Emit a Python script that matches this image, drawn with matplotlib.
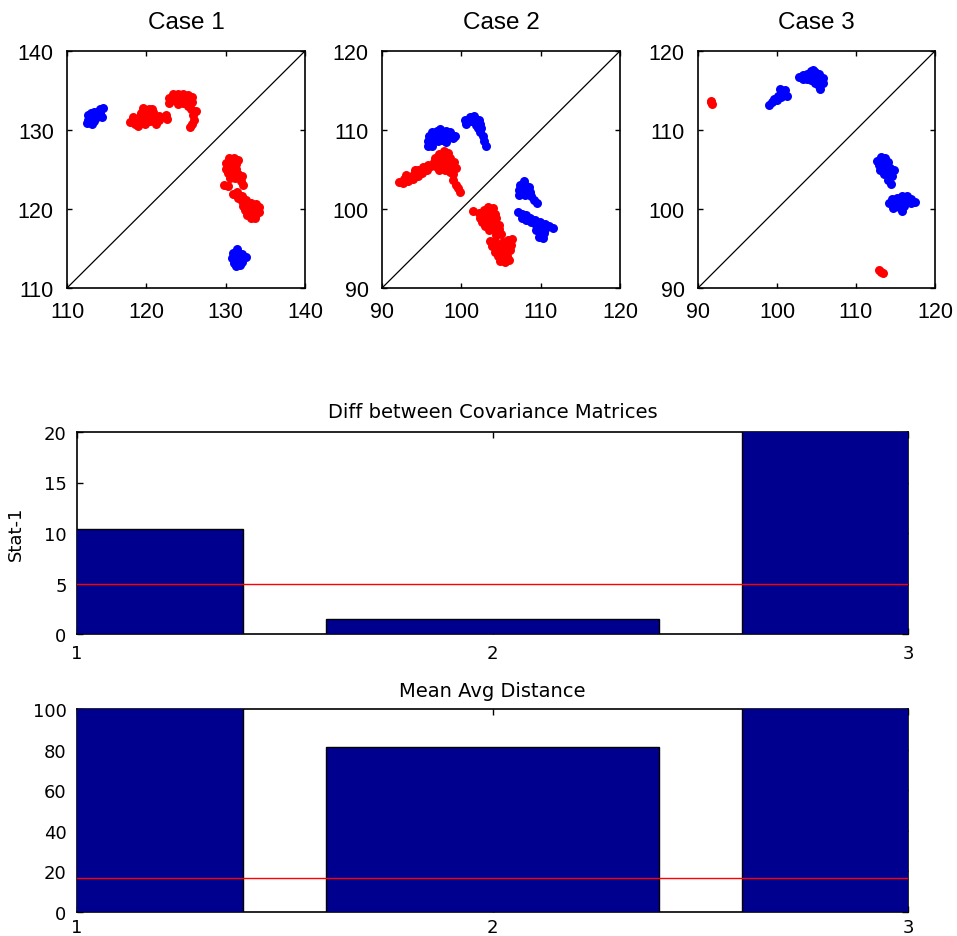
import numpy as np
import matplotlib
matplotlib.use("Agg")
import matplotlib.pyplot as plt

# ---------------- data ----------------
case_titles = ["Case 1", "Case 2", "Case 3"]
case_limits = [(110, 140), (90, 120), (90, 120)]
case_ticks = [[110, 120, 130, 140], [90, 100, 110, 120], [90, 100, 110, 120]]

case1_red = [
    (118.0, 131.0), (118.6, 130.7), (118.6, 131.3), (119.2, 131.0), (119.2, 131.6), (119.3, 132.2),
    (119.8, 130.8), (119.8, 131.5), (119.9, 132.2), (120.3, 132.6), (120.4, 131.2), (120.4, 131.9),
    (121.0, 131.1), (121.0, 131.7), (121.6, 131.3), (121.6, 131.8), (122.5, 131.9), (122.6, 131.4),
    (118.3, 131.7), (119.0, 130.5), (120.9, 132.3), (121.2, 130.7), (119.6, 132.8), (120.7, 132.6),
    (122.9, 134.0), (122.9, 133.4), (123.4, 134.5), (123.4, 133.8), (124.0, 134.6), (124.0, 134.0),
    (124.6, 134.6), (124.6, 134.0), (124.6, 133.4), (125.2, 134.4), (125.2, 133.8), (125.2, 133.0),
    (125.8, 134.2), (125.7, 133.5), (125.6, 132.6), (125.9, 131.9), (126.0, 131.3), (125.8, 130.7),
    (125.5, 130.4), (124.0, 133.3), (126.2, 132.4),
    (130.4, 126.4), (131.0, 126.5), (131.5, 126.2), (130.1, 125.8), (130.7, 125.8), (131.3, 125.7),
    (130.1, 125.1), (130.7, 125.2), (131.3, 125.1), (130.3, 124.5), (130.9, 124.5), (131.5, 124.4),
    (132.0, 124.2), (130.6, 123.9), (131.2, 123.9), (131.9, 123.5), (132.2, 123.0), (129.8, 123.0),
    (130.3, 122.9),
    (130.9, 121.9), (131.4, 122.1), (131.5, 121.4), (132.0, 121.7), (132.1, 121.0), (132.6, 121.2),
    (132.7, 120.5), (133.2, 120.8), (133.2, 120.1), (133.8, 120.6), (133.8, 120.0), (134.2, 120.2),
    (132.4, 119.9), (132.7, 119.3), (133.3, 119.5), (133.8, 119.4), (134.2, 119.6), (133.2, 118.8),
    (133.7, 118.9), (132.2, 120.4),
]
case1_blue = [
    (112.6, 131.3), (112.6, 131.9), (113.0, 131.0), (113.0, 131.6), (113.0, 132.2), (113.4, 131.2),
    (113.4, 131.8), (113.4, 132.3), (113.8, 131.7), (113.8, 132.3), (114.2, 132.1), (114.2, 132.7),
    (114.5, 132.8), (113.2, 130.7), (112.5, 130.9), (114.4, 131.6),
    (131.4, 115.0), (130.9, 114.4), (131.5, 114.4), (132.1, 114.3), (130.8, 113.8), (131.4, 113.8),
    (132.0, 113.7), (132.5, 113.9), (131.0, 113.2), (131.6, 113.2), (132.1, 113.3), (131.3, 112.8),
    (131.8, 112.9),
]

case2_red = [
    (92.2, 103.4), (92.7, 103.3), (92.8, 103.8), (93.3, 103.5), (93.4, 104.1), (93.9, 103.8),
    (94.0, 104.4), (94.5, 104.2), (94.6, 104.9), (95.1, 104.5), (95.2, 105.3), (95.7, 105.0),
    (95.8, 105.6), (96.2, 105.4), (93.0, 104.3), (94.1, 105.0),
    (96.7, 106.5), (97.2, 107.0), (97.8, 107.3), (98.3, 107.1), (96.6, 105.9), (97.3, 106.3),
    (98.0, 106.5), (98.6, 106.4), (99.1, 106.0), (96.9, 105.3), (97.7, 105.7), (98.3, 105.6),
    (98.8, 105.3), (99.3, 105.2), (97.2, 104.9), (98.0, 104.9), (98.6, 104.7), (99.0, 104.4),
    (98.9, 103.7), (99.3, 103.1), (99.6, 102.6), (99.8, 102.2),
    (101.5, 99.7), (102.2, 99.5), (102.8, 99.9), (103.4, 100.2), (104.0, 100.1), (102.4, 98.9),
    (103.0, 99.2), (103.6, 99.5), (104.2, 99.4), (102.6, 98.3), (103.2, 98.6), (103.8, 98.8),
    (104.4, 98.8), (103.0, 97.8), (103.6, 98.0), (104.2, 98.1), (104.8, 98.0), (103.5, 97.3),
    (104.1, 97.3), (104.7, 97.5), (104.4, 96.7), (105.0, 96.8),
    (103.6, 95.9), (104.2, 96.0), (105.3, 95.8), (105.9, 96.1), (106.4, 96.2), (103.9, 95.3),
    (104.5, 95.3), (105.1, 95.3), (105.7, 95.4), (106.3, 95.5), (104.3, 94.6), (104.9, 94.7),
    (105.5, 94.7), (106.1, 94.8), (104.6, 94.0), (105.2, 94.0), (105.8, 94.1), (104.9, 93.4),
    (105.5, 93.3), (106.0, 93.6),
]
case2_blue = [
    (96.3, 109.8), (96.9, 109.9), (97.5, 109.8), (98.1, 109.9), (98.6, 109.7), (95.9, 109.2),
    (96.5, 109.2), (97.1, 109.2), (97.7, 109.3), (98.3, 109.1), (98.9, 109.0), (95.8, 108.6),
    (96.4, 108.6), (97.0, 108.6), (97.6, 108.7), (98.1, 108.5), (95.8, 108.0), (96.3, 108.0),
    (99.2, 109.3), (97.3, 110.1),
    (100.5, 111.3), (100.6, 110.8), (101.1, 111.7), (101.2, 111.1), (101.6, 111.8), (101.7, 111.2),
    (101.8, 110.6), (102.2, 111.3), (102.1, 110.2), (102.4, 110.8), (102.4, 109.7), (102.7, 109.2),
    (102.9, 108.6), (103.1, 108.0), (102.5, 110.2),
    (107.9, 103.6), (107.4, 103.0), (108.0, 103.0), (108.5, 102.8), (107.3, 102.4), (107.9, 102.4),
    (108.6, 102.2), (107.3, 101.8), (108.0, 101.8), (108.8, 101.6), (109.1, 101.1), (109.5, 100.8),
    (107.1, 99.6), (107.6, 99.4), (107.6, 98.9), (108.1, 99.2), (108.2, 98.6), (108.7, 98.9),
    (108.8, 98.3), (109.3, 98.6), (109.4, 98.0), (109.9, 98.3), (110.0, 97.7), (110.5, 98.1),
    (110.6, 97.5), (111.1, 97.8), (111.6, 97.6), (109.4, 97.4), (109.9, 97.0), (110.4, 96.9),
    (109.8, 96.4), (110.3, 96.3),
]

case3_red = [
    (91.6, 113.7), (91.8, 113.3), (91.7, 113.5),
    (112.9, 92.3), (113.2, 92.0), (113.4, 91.9),
]
case3_blue = [
    (99.0, 113.2), (99.4, 113.5), (99.6, 113.9), (100.0, 113.8), (100.1, 114.3), (100.5, 114.2),
    (100.5, 114.8), (100.9, 114.6), (101.0, 115.1), (101.3, 114.3), (100.4, 115.2),
    (102.8, 116.7), (103.3, 116.9), (103.3, 116.4), (103.8, 117.1), (103.8, 116.5), (104.3, 117.5),
    (104.3, 116.9), (104.3, 116.3), (104.8, 117.3), (104.8, 116.7), (104.8, 116.0), (105.3, 117.1),
    (105.3, 116.5), (105.3, 115.6), (105.8, 116.6), (105.8, 116.0), (105.5, 115.2), (104.5, 117.6),
    (112.7, 106.1), (113.2, 106.6), (113.7, 106.5), (112.9, 105.6), (113.5, 105.8), (114.0, 105.9),
    (113.1, 105.0), (113.7, 105.1), (114.3, 105.2), (114.8, 104.9), (113.5, 104.4), (114.1, 104.4),
    (114.6, 104.2), (114.0, 103.7), (114.4, 103.2),
    (114.2, 100.8), (114.6, 101.3), (114.8, 100.6), (115.2, 101.4), (115.3, 100.8), (115.5, 100.2),
    (115.8, 101.6), (115.9, 101.0), (116.1, 100.4), (116.4, 101.7), (116.5, 101.1), (117.0, 101.3),
    (117.5, 100.9), (115.8, 99.7), (116.9, 100.7), (114.7, 100.1),
]

bar_positions = [1, 2, 3]
cov_values = [10.4, 1.5, 25.0]
cov_threshold = 5.0
cov_title = "Diff between Covariance Matrices"
cov_ylabel = "Stat-1"
cov_yticks = [0, 5, 10, 15, 20]

dist_values = [140.0, 81.5, 130.0]
dist_threshold = 16.7
dist_title = "Mean Avg Distance"
dist_yticks = [0, 20, 40, 60, 80, 100]

# ---------------- figure ----------------
W, H = 957, 937
fig = plt.figure(figsize=(W / 100, H / 100), dpi=100)
fig.patch.set_facecolor("white")

RED = "#ff0000"
BLUE = "#0000ff"
NAVY = "#00008f"
CASE_FONT = ["Liberation Sans", "DejaVu Sans"]
BAR_FONT = ["DejaVu Sans"]


def px_rect(left, top, right, bottom):
    return [left / W, 1 - bottom / H, (right - left) / W, (bottom - top) / H]


case_rects = [px_rect(67, 52, 305, 289), px_rect(382, 52, 620, 289), px_rect(698, 52, 935, 289)]
case_data = [(case1_red, case1_blue), (case2_red, case2_blue), (case3_red, case3_blue)]

for rect, title, lim, ticks, (reds, blues) in zip(case_rects, case_titles, case_limits, case_ticks, case_data):
    ax = fig.add_axes(rect)
    lo, hi = lim
    ax.plot([lo, hi], [lo, hi], color="black", lw=0.9, zorder=1)
    r = np.array(reds)
    b = np.array(blues)
    ax.scatter(r[:, 0], r[:, 1], s=42, color=RED, linewidths=0, zorder=2)
    ax.scatter(b[:, 0], b[:, 1], s=42, color=BLUE, linewidths=0, zorder=2)
    ax.set_xlim(lo, hi)
    ax.set_ylim(lo, hi)
    ax.set_xticks(ticks)
    ax.set_yticks(ticks)
    ax.tick_params(direction="in", length=3.5, width=1.0, top=True, right=True,
                   labelsize=15.5, pad=9.5)
    for lab in ax.get_xticklabels() + ax.get_yticklabels():
        lab.set_family(CASE_FONT)
    for sp in ax.spines.values():
        sp.set_linewidth(1.2)
    ax.set_title(title, fontsize=17.5, family=CASE_FONT, pad=16.5)


def bar_panel(rect, values, threshold, yticks, title, ylabel=None, title_pad=7.5, xpad=7.5):
    ax = fig.add_axes(rect)
    ax.bar(bar_positions, values, width=0.8, color=NAVY, edgecolor="black",
           linewidth=1.0, zorder=3)
    ax.plot([bar_positions[0], bar_positions[-1]], [threshold, threshold],
            color=RED, lw=1.0, zorder=4)
    ax.set_xlim(bar_positions[0], bar_positions[-1])
    ax.set_ylim(yticks[0], yticks[-1])
    ax.set_xticks(bar_positions)
    ax.set_xticklabels([str(p) for p in bar_positions])
    ax.set_yticks(yticks)
    ax.tick_params(direction="in", length=4, width=1.0, top=True, right=True,
                   labelsize=13, pad=7.5)
    ax.tick_params(axis="x", pad=xpad)
    for lab in ax.get_xticklabels() + ax.get_yticklabels():
        lab.set_family(BAR_FONT)
    for sp in ax.spines.values():
        sp.set_linewidth(1.2)
        sp.set_zorder(2)
    ax.set_title(title, fontsize=14, family=BAR_FONT, pad=title_pad)
    if ylabel:
        ax.set_ylabel(ylabel, fontsize=13, family=BAR_FONT)
        ax.yaxis.set_label_coords(-0.063, 0.5)
    return ax


bar_panel(px_rect(77, 433, 908, 635), cov_values, cov_threshold, cov_yticks, cov_title,
          ylabel=cov_ylabel, title_pad=11, xpad=7.5)
bar_panel(px_rect(77, 710, 908, 913), dist_values, dist_threshold, dist_yticks, dist_title,
          title_pad=9.5, xpad=4.5)

fig.savefig("out.png", dpi=100, facecolor="white")
